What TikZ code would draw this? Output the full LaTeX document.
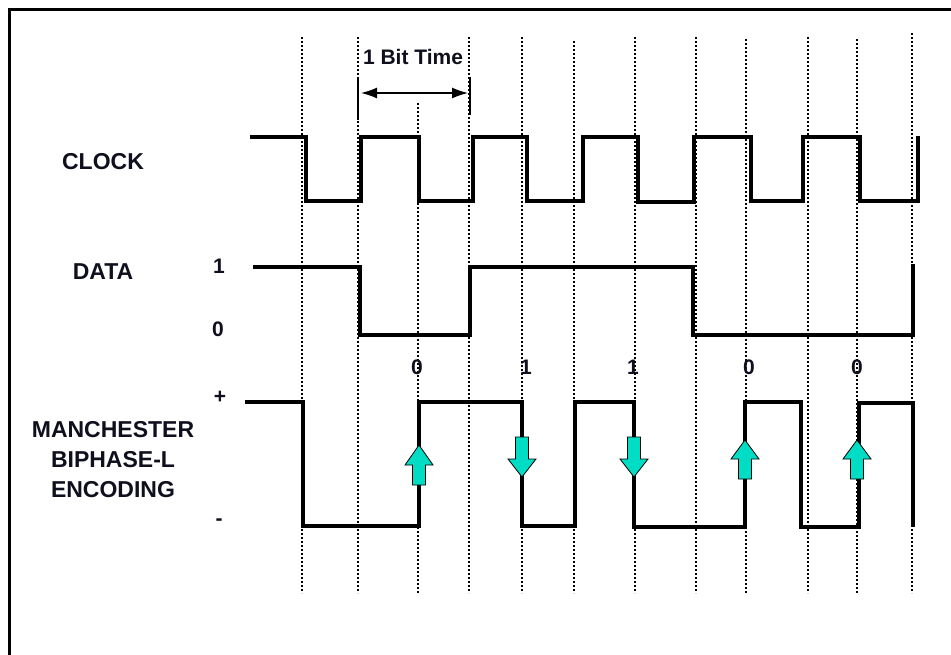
\documentclass[tikz,border=0pt]{standalone}
\usepackage{fontspec}
\setmainfont{Liberation Sans}
\usetikzlibrary{arrows.meta}
\definecolor{turq}{RGB}{0,221,196}
\definecolor{txt}{RGB}{15,15,30}
\begin{document}
\begin{tikzpicture}[x=1pt,y=-1pt,
  wave/.style={line width=3.2pt,line join=miter,line cap=butt},
  grid/.style={line width=1.3pt,dash pattern=on 2.2pt off 1.8pt},
  lbl/.style={font=\bfseries\fontsize{21}{25}\selectfont,text=txt,inner sep=0pt},
  big/.style={font=\bfseries\fontsize{23}{30}\selectfont,text=txt,inner sep=0pt,align=center},
  bitarrow/.style={fill=turq,draw=black,line width=0.8pt}]
\useasboundingbox (0,0) rectangle (951,655);
\fill[white] (0,0) rectangle (951,655);
% frame
\draw[line width=3pt] (9,700) -- (9,10) -- (970,10);
% dotted time grid
\foreach \x/\t in {302/37,358/37,418/103,469/37,522/37,574/41,635/37,696/37,746/39,808/37,857/39,912/33}
  \draw[grid] (\x,\t) -- (\x,593);
% bit time marker
\draw[line width=2.8pt] (358,78) -- (358,120);
\draw[line width=2.8pt] (470,77) -- (470,115);
\node[lbl] (bit) at (413,57) {1 Bit Time};
\coordinate (ba) at (361,93);
\coordinate (bb) at (468,93);
\draw[line width=1.4pt,{Latex[length=16pt,width=11pt]}-{Latex[length=16pt,width=11pt]}] (ba) -- (bb);
% labels
\node[big] (clock) at (103,162) {CLOCK};
\node[big] (data) at (103,272) {DATA};
\node[lbl] (one) at (219,266) {1};
\node[lbl] (zero) at (218,329) {0};
\node[lbl] (plus) at (220,397) {+};
\node[lbl] (minus) at (219,522) {-};
\node[big] (man) at (113,460) {MANCHESTER\\BIPHASE-L\\ENCODING};
% bit values
\foreach \x/\v [count=\i] in {417/0,526/1,633/1,749/0,857/0}
  \node[lbl] (b\i) at (\x,367) {\v};
% clock waveform
\draw[wave] (250,137) -- (306,137) -- (306,201) -- (361,201) -- (361,137)
  -- (419,137) -- (419,201) -- (473,201) -- (473,137) -- (527,137) -- (527,201)
  -- (583,201) -- (583,137) -- (638,137) -- (638,202) -- (694,202) -- (694,137)
  -- (751,137) -- (751,201) -- (803,201) -- (803,137) -- (860,137) -- (860,201)
  -- (918,201) -- (918,136);
% data waveform
\draw[wave] (253,267) -- (360,267) -- (360,335) -- (470,335) -- (470,267)
  -- (693,267) -- (693,335) -- (913,335) -- (913,264);
% manchester waveform
\draw[wave] (245,402) -- (303,402) -- (303,526) -- (419,526) -- (419,402)
  -- (522,402) -- (522,526) -- (575,526) -- (575,402) -- (634,402) -- (634,527)
  -- (745,527) -- (745,402) -- (801,402) -- (801,527) -- (859,527) -- (859,403)
  -- (913,403) -- (913,527);
% transition arrows
\foreach \x/\tip/\hb/\tl in {419/445/465/485,745/440/459/479,857/440/459/479}
  \draw[bitarrow] (\x,\tip) -- (\x+14,\hb) -- (\x+6.5,\hb) -- (\x+6.5,\tl) -- (\x-6.5,\tl)
    -- (\x-6.5,\hb) -- (\x-14,\hb) -- cycle;
\foreach \x/\tp/\hb/\tip in {522/437/459/477,634/437/459/477}
  \draw[bitarrow] (\x,\tip) -- (\x+14,\hb) -- (\x+6.5,\hb) -- (\x+6.5,\tp) -- (\x-6.5,\tp)
    -- (\x-6.5,\hb) -- (\x-14,\hb) -- cycle;
\end{tikzpicture}
\end{document}
